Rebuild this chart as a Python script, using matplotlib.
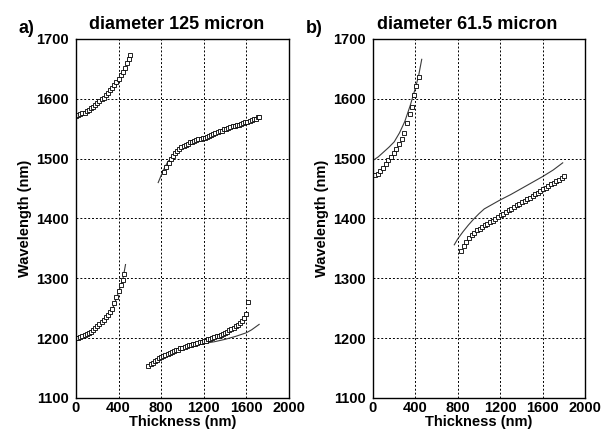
import matplotlib.pyplot as plt

plt.rcParams['font.family'] = ['Liberation Sans', 'DejaVu Sans']
plt.rcParams['font.weight'] = 'bold'

# --- panel a) diameter 125 micron ---
a1_x = [0, 20, 40, 60, 80, 100, 120, 140, 160, 180, 200, 220, 240, 260, 280,
        300, 320, 340, 360, 380, 400, 420, 440, 460, 480, 500, 510]
a1_y = [1572, 1573, 1574, 1576, 1577, 1579, 1581, 1584, 1587, 1590, 1593, 1596,
        1599, 1602, 1606, 1610, 1614, 1618, 1623, 1628, 1633, 1639, 1645, 1652,
        1660, 1667, 1673]

a2_x = [830, 850, 870, 890, 910, 930, 950, 970, 990, 1010, 1030, 1050, 1070,
        1090, 1110, 1130, 1150, 1170, 1190, 1210, 1230, 1250, 1270, 1290, 1310,
        1330, 1350, 1370, 1390, 1410, 1430, 1450, 1470, 1490, 1510, 1530, 1550,
        1570, 1590, 1610, 1630, 1650, 1670, 1690, 1710, 1720]
a2_y = [1478, 1486, 1493, 1499, 1504, 1509, 1513, 1516, 1519, 1521, 1523, 1525,
        1527, 1528, 1530, 1531, 1532, 1533, 1534, 1535, 1537, 1538, 1540, 1542,
        1543, 1544, 1546, 1547, 1549, 1550, 1551, 1553, 1554, 1555, 1556, 1557,
        1558, 1560, 1561, 1562, 1563, 1565, 1566, 1567, 1569, 1570]
a2_fit_x = [772, 800, 830, 860, 900, 950, 1000, 1100, 1200, 1300, 1400, 1500, 1600, 1720]
a2_fit_y = [1460, 1472, 1484, 1494, 1503, 1512, 1519, 1528, 1534, 1541, 1549, 1555, 1561, 1570]

a3_x = [0, 20, 40, 60, 80, 100, 120, 140, 160, 180, 200, 220, 240, 260, 280,
        300, 320, 340, 360, 380, 400, 420, 440, 455]
a3_y = [1200, 1201, 1202, 1203, 1205, 1207, 1209, 1211, 1214, 1217, 1220, 1223,
        1227, 1231, 1235, 1239, 1244, 1248, 1258, 1268, 1279, 1289, 1298, 1307]
a3_fit_x = [0, 100, 200, 300, 350, 400, 440, 465]
a3_fit_y = [1200, 1207, 1220, 1239, 1252, 1277, 1298, 1323]

a4_x = [680, 700, 720, 740, 760, 780, 800, 820, 840, 860, 880, 900, 920, 940,
        960, 980, 1000, 1020, 1040, 1060, 1080, 1100, 1120, 1140, 1160, 1180,
        1200, 1220, 1240, 1260, 1280, 1300, 1320, 1340, 1360, 1380, 1400, 1420,
        1440, 1460, 1480, 1500, 1520, 1540, 1560, 1580, 1595, 1615]
a4_y = [1154, 1157, 1159, 1162, 1164, 1166, 1168, 1170, 1172, 1174, 1175, 1177,
        1178, 1180, 1181, 1183, 1184, 1185, 1187, 1188, 1189, 1190, 1191, 1192,
        1193, 1194, 1195, 1196, 1198, 1199, 1200, 1202, 1203, 1204, 1206, 1207,
        1209, 1211, 1213, 1215, 1217, 1220, 1222, 1225, 1229, 1234, 1240, 1260]
a4_fit_x = [680, 800, 900, 1000, 1100, 1200, 1300, 1400, 1500, 1600, 1650, 1720]
a4_fit_y = [1153, 1168, 1176, 1182, 1187, 1191, 1194, 1198, 1203, 1209, 1214, 1223]

# --- panel b) diameter 61.5 micron ---
b1_x = [20, 45, 70, 95, 120, 145, 170, 195, 220, 245, 270, 295, 320, 345, 370, 390, 410, 430]
b1_y = [1473, 1475, 1480, 1485, 1491, 1497, 1503, 1509, 1516, 1524, 1533, 1543,
        1559, 1574, 1587, 1606, 1622, 1637]
b1_fit_x = [0, 50, 100, 150, 200, 250, 300, 350, 370, 400, 430, 460]
b1_fit_y = [1497, 1503, 1511, 1519, 1528, 1543, 1562, 1588, 1600, 1618, 1638, 1666]

b2_x = [830, 855, 880, 905, 930, 955, 980, 1005, 1030, 1055, 1080, 1105, 1130,
        1155, 1180, 1205, 1230, 1255, 1280, 1305, 1330, 1355, 1380, 1405, 1430,
        1455, 1480, 1505, 1530, 1555, 1580, 1605, 1630, 1655, 1680, 1705, 1730,
        1755, 1780, 1800]
b2_y = [1345, 1354, 1361, 1367, 1372, 1376, 1380, 1383, 1386, 1389, 1391, 1394,
        1396, 1399, 1402, 1405, 1408, 1411, 1414, 1416, 1419, 1422, 1424, 1427,
        1430, 1432, 1435, 1438, 1441, 1443, 1446, 1449, 1451, 1454, 1457, 1460,
        1462, 1465, 1468, 1471]
b2_fit_x = [767, 800, 850, 900, 950, 1000, 1050, 1100, 1200, 1300, 1400, 1500, 1600, 1700, 1790]
b2_fit_y = [1356, 1366, 1378, 1389, 1399, 1408, 1416, 1421, 1431, 1440, 1450, 1460, 1470, 1481, 1493]

x_ticks = [0, 400, 800, 1200, 1600, 2000]
y_ticks = [1100, 1200, 1300, 1400, 1500, 1600, 1700]

fig = plt.figure(figsize=(6.04, 4.36), dpi=100)
ax_a = fig.add_axes([0.1258, 0.0872, 0.3526, 0.8234])
ax_b = fig.add_axes([0.6175, 0.0872, 0.351, 0.8234])

line_kw = dict(color='#3a3a3a', linewidth=0.8)
sq_kw = dict(linestyle='none', marker='s', markersize=3.2, markerfacecolor='white',
             markeredgecolor='black', markeredgewidth=0.6)

for fx, fy in [(a2_fit_x, a2_fit_y), (a3_fit_x, a3_fit_y), (a4_fit_x, a4_fit_y)]:
    ax_a.plot(fx, fy, **line_kw)
for sx, sy in [(a1_x, a1_y), (a2_x, a2_y), (a3_x, a3_y), (a4_x, a4_y)]:
    ax_a.plot(sx, sy, **sq_kw)

for fx, fy in [(b1_fit_x, b1_fit_y), (b2_fit_x, b2_fit_y)]:
    ax_b.plot(fx, fy, **line_kw)
for sx, sy in [(b1_x, b1_y), (b2_x, b2_y)]:
    ax_b.plot(sx, sy, **sq_kw)

for ax in (ax_a, ax_b):
    ax.set_xlim(0, 2000)
    ax.set_ylim(1100, 1700)
    ax.set_xticks(x_ticks)
    ax.set_yticks(y_ticks)
    ax.tick_params(labelsize=10.5, length=0)
    ax.tick_params(axis='y', pad=5)
    ax.tick_params(axis='x', pad=2)
    for lab in ax.get_xticklabels() + ax.get_yticklabels():
        lab.set_fontweight('bold')
    ax.grid(True, color='black', linestyle=(0, (2, 2)), linewidth=0.7)
    ax.set_axisbelow(True)
    for sp in ax.spines.values():
        sp.set_linewidth(1.0)
    ax.set_xlabel('Thickness (nm)', fontsize=10.5, fontweight='bold', labelpad=0)
    ax.set_ylabel('Wavelength (nm)', fontsize=10.5, fontweight='bold', labelpad=3)

fig.text(0.293, 0.944, 'diameter 125 micron', fontsize=13, fontweight='bold',
         ha='center', va='center')
fig.text(0.773, 0.944, 'diameter 61.5 micron', fontsize=13, fontweight='bold',
         ha='center', va='center')
fig.text(0.03, 0.935, 'a)', fontsize=13, fontweight='bold', va='center')
fig.text(0.507, 0.935, 'b)', fontsize=13, fontweight='bold', va='center')

fig.savefig('out.png', dpi=100)
